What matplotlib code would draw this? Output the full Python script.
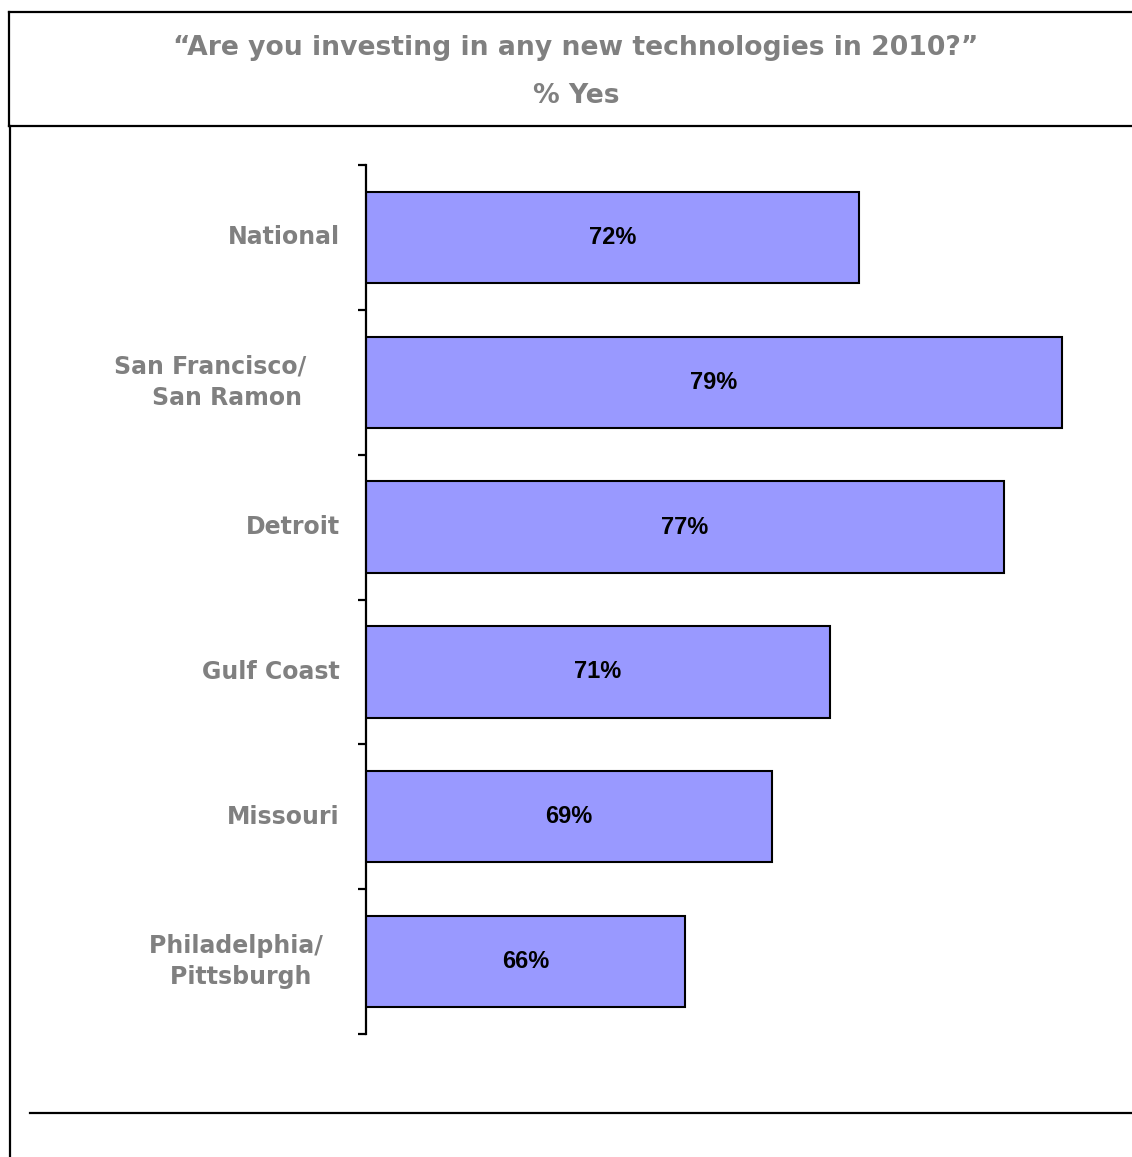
import matplotlib
matplotlib.use("Agg")
import matplotlib.pyplot as plt
from matplotlib.lines import Line2D

# Survey results: share answering "yes"
categories = ["National", "San Francisco/    \nSan Ramon", "Detroit", "Gulf Coast",
              "Missouri", "Philadelphia/  \nPittsburgh "]
values = [72, 79, 77, 71, 69, 66]
value_labels = ["72%", "79%", "77%", "71%", "69%", "66%"]

title_line1 = "\u201cAre you investing in any new technologies in 2010?\u201d"
title_line2 = "% Yes"

W, H = 1132, 1157
fig = plt.figure(figsize=(W / 100, H / 100), dpi=100)
fig.patch.set_facecolor("white")

gray = "#808080"
bar_color = "#9999FF"
label_font = "DejaVu Sans"
value_font = "Liberation Sans"


def fx(px):
    return px / W


def fy(py):
    return 1 - py / H


# Frame lines around the title and the chart body
frame = [
    ((9, 1132), (12, 12)),
    ((9, 9), (12, 126)),
    ((9, 1132), (126, 126)),
    ((10, 10), (126, 1157)),
    ((30, 1132), (1113, 1113)),
]
for xs, ys in frame:
    fig.add_artist(Line2D([fx(x) for x in xs], [fy(y) for y in ys],
                          color="black", lw=1.6, transform=fig.transFigure))

fig.text(fx(576), fy(48), title_line1, ha="center", va="center",
         fontsize=19.2, fontweight="bold", color=gray, family=label_font)
fig.text(fx(576), fy(96), title_line2, ha="center", va="center",
         fontsize=19.2, fontweight="bold", color=gray, family=label_font)

ax = fig.add_axes([fx(366), fy(1034), 1 - fx(366), (1034 - 165) / H])
y = list(range(len(categories)))
ax.barh(y, values, height=0.63, color=bar_color, edgecolor="black",
        linewidth=1.5, left=0)
ax.set_xlim(55, 55 + (W - 366) / 29)
ax.set_ylim(len(categories) - 0.5, -0.5)

for yi, v, lab in zip(y, values, value_labels):
    ax.text((55 + v) / 2, yi, lab, ha="center", va="center",
            fontsize=17, fontweight="bold", color="black", family=value_font)

for s in ["top", "right", "bottom"]:
    ax.spines[s].set_visible(False)
ax.spines["left"].set_linewidth(1.6)
ax.set_xticks([])
ax.set_yticks(y)
ax.set_yticklabels(categories, fontsize=17, fontweight="bold", color=gray,
                   family=label_font, ha="right", va="center",
                   multialignment="center", linespacing=1.4)
ax.tick_params(axis="y", which="major", length=0, pad=19)
ax.set_yticks([i - 0.5 for i in range(len(categories) + 1)], minor=True)
ax.tick_params(axis="y", which="minor", length=6, width=1.6, direction="out")

fig.savefig("out.png", dpi=100, facecolor="white")
